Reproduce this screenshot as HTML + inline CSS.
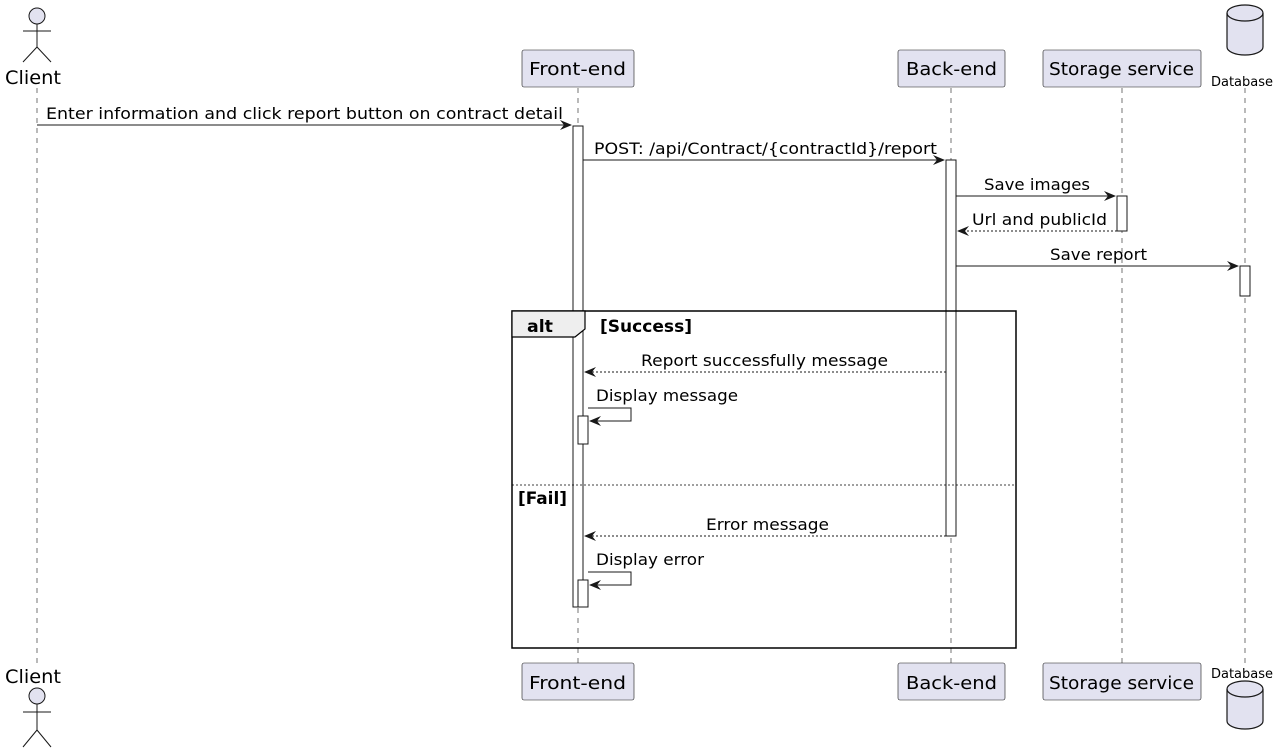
<!DOCTYPE html>
<html><head><meta charset="utf-8"><style>
html,body{margin:0;padding:0;background:#fff;}
svg{display:block;}
text{font-family:"DejaVu Sans","Liberation Sans",sans-serif;fill:#000;}
</style></head><body>
<svg width="1280" height="752" viewBox="0 0 1280 752" xmlns="http://www.w3.org/2000/svg">
<defs>
<marker id="ah" viewBox="0 0 12 10" refX="11" refY="5" markerWidth="12" markerHeight="10" markerUnits="userSpaceOnUse" orient="auto">
<path d="M0,0 L12,5 L0,10 L4,5 Z" fill="#181818"/>
</marker>
</defs>
<g stroke="#181818" stroke-width="0.6" stroke-dasharray="5,5">
<line x1="37" y1="88" x2="37" y2="665"/>
<line x1="578" y1="88" x2="578" y2="663"/>
<line x1="951" y1="88" x2="951" y2="663"/>
<line x1="1122" y1="88" x2="1122" y2="663"/>
<line x1="1245" y1="88" x2="1245" y2="663"/>
</g>
<g stroke="#181818" stroke-width="1" fill="#E2E2F0">
<circle cx="37" cy="16" r="8"/>
<line x1="37" y1="24" x2="37" y2="47"/>
<line x1="23" y1="31" x2="51" y2="31"/>
<line x1="37" y1="47" x2="23" y2="62"/>
<line x1="37" y1="47" x2="51" y2="62"/>
<circle cx="37" cy="696" r="8"/>
<line x1="37" y1="704" x2="37" y2="730"/>
<line x1="23" y1="712" x2="51" y2="712"/>
<line x1="37" y1="730" x2="23" y2="747"/>
<line x1="37" y1="730" x2="51" y2="747"/>
</g>
<text x="5" y="84" font-size="19" textLength="56" lengthAdjust="spacingAndGlyphs">Client</text>
<text x="5" y="683" font-size="19" textLength="56" lengthAdjust="spacingAndGlyphs">Client</text>
<g fill="#E2E2F0" stroke="#181818" stroke-width="0.6">
<rect x="522" y="50" width="112" height="37" rx="2"/>
<rect x="898" y="50" width="107" height="37" rx="2"/>
<rect x="1043" y="50" width="158" height="37" rx="2"/>
<rect x="522" y="663" width="112" height="37" rx="2"/>
<rect x="898" y="663" width="107" height="37" rx="2"/>
<rect x="1043" y="663" width="158" height="37" rx="2"/>
</g>
<g font-size="18" lengthAdjust="spacingAndGlyphs">
<text x="529" y="75" textLength="97" lengthAdjust="spacingAndGlyphs">Front-end</text>
<text x="906" y="75" textLength="91" lengthAdjust="spacingAndGlyphs">Back-end</text>
<text x="1049" y="75" textLength="145" lengthAdjust="spacingAndGlyphs">Storage service</text>
<text x="529" y="689" textLength="97" lengthAdjust="spacingAndGlyphs">Front-end</text>
<text x="906" y="689" textLength="91" lengthAdjust="spacingAndGlyphs">Back-end</text>
<text x="1049" y="689" textLength="145" lengthAdjust="spacingAndGlyphs">Storage service</text>
</g>
<g fill="#E2E2F0" stroke="#181818" stroke-width="1.2">
<path d="M1227,13 A18,8 0 0 1 1263,13 L1263,47 A18,8 0 0 1 1227,47 Z"/>
<path d="M1227,13 A18,8 0 0 0 1263,13" fill="none"/>
<path d="M1227,689 A18,8 0 0 1 1263,689 L1263,721 A18,8 0 0 1 1227,721 Z"/>
<path d="M1227,689 A18,8 0 0 0 1263,689" fill="none"/>
</g>
<text x="1211" y="86" font-size="13" textLength="62" lengthAdjust="spacingAndGlyphs">Database</text>
<text x="1211" y="678" font-size="13" textLength="62" lengthAdjust="spacingAndGlyphs">Database</text>
<g fill="#fff" stroke="#181818" stroke-width="1">
<rect x="573" y="126" width="10" height="481"/>
<rect x="946" y="160" width="10" height="376"/>
<rect x="1117" y="196" width="10" height="35"/>
<rect x="1240" y="266" width="10" height="30"/>
</g>
<rect x="512" y="311" width="504" height="337" fill="none" stroke="#000" stroke-width="1.5"/>
<path d="M512,311 L585,311 L585,329 L575,337 L512,337 Z" fill="#EEEEEE" stroke="#000" stroke-width="1.2"/>
<text x="527" y="332" font-size="17" font-weight="bold" textLength="26" lengthAdjust="spacingAndGlyphs">alt</text>
<text x="600" y="332" font-size="17" font-weight="bold" textLength="92" lengthAdjust="spacingAndGlyphs">[Success]</text>
<line x1="512" y1="485" x2="1016" y2="485" stroke="#000" stroke-width="0.8" stroke-dasharray="2,2"/>
<text x="518" y="504" font-size="17" font-weight="bold" textLength="49" lengthAdjust="spacingAndGlyphs">[Fail]</text>
<g fill="#fff" stroke="#181818" stroke-width="1">
<rect x="578" y="416" width="10" height="28"/>
<rect x="578" y="580" width="10" height="27"/>
</g>
<g stroke="#181818" stroke-width="1" fill="none">
<line x1="37" y1="125" x2="571" y2="125" marker-end="url(#ah)"/>
<line x1="583" y1="160" x2="944" y2="160" marker-end="url(#ah)"/>
<line x1="956" y1="196" x2="1115" y2="196" marker-end="url(#ah)"/>
<line x1="1117" y1="231" x2="958" y2="231" stroke-dasharray="2,2" marker-end="url(#ah)"/>
<line x1="956" y1="266" x2="1238" y2="266" marker-end="url(#ah)"/>
<line x1="946" y1="372" x2="585" y2="372" stroke-dasharray="2,2" marker-end="url(#ah)"/>
<polyline points="588,408 631,408 631,421 590,421" marker-end="url(#ah)"/>
<line x1="946" y1="536" x2="585" y2="536" stroke-dasharray="2,2" marker-end="url(#ah)"/>
<polyline points="588,572 631,572 631,585 590,585" marker-end="url(#ah)"/>
</g>
<g font-size="16">
<text x="46" y="119" textLength="517" lengthAdjust="spacingAndGlyphs">Enter information and click report button on contract detail</text>
<text x="594" y="154" textLength="343" lengthAdjust="spacingAndGlyphs">POST: /api/Contract/{contractId}/report</text>
<text x="984" y="190" textLength="106" lengthAdjust="spacingAndGlyphs">Save images</text>
<text x="972" y="225" textLength="135" lengthAdjust="spacingAndGlyphs">Url and publicId</text>
<text x="1050" y="260" textLength="97" lengthAdjust="spacingAndGlyphs">Save report</text>
<text x="641" y="366" textLength="247" lengthAdjust="spacingAndGlyphs">Report successfully message</text>
<text x="596" y="401" textLength="142" lengthAdjust="spacingAndGlyphs">Display message</text>
<text x="706" y="530" textLength="123" lengthAdjust="spacingAndGlyphs">Error message</text>
<text x="596" y="565" textLength="108" lengthAdjust="spacingAndGlyphs">Display error</text>
</g>
</svg>
</body></html>
